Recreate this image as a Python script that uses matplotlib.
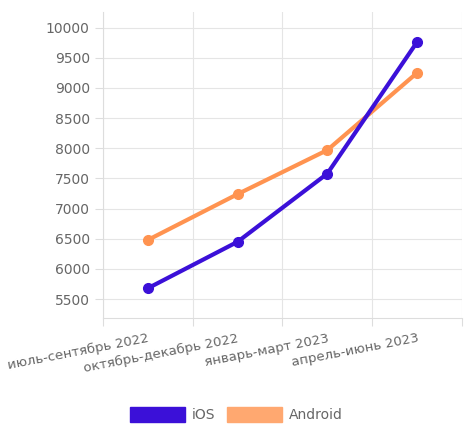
import matplotlib
matplotlib.use("Agg")
import matplotlib.pyplot as plt
from matplotlib.patches import Patch

categories = ["июль-сентябрь 2022", "октябрь-декабрь 2022", "январь-март 2023", "апрель-июнь 2023"]
ios = [5680, 6450, 7580, 9760]
android = [6480, 7240, 7970, 9250]
yticks = [5500, 6000, 6500, 7000, 7500, 8000, 8500, 9000, 9500, 10000]

fig = plt.figure(figsize=(4.68, 4.36), dpi=100)
ax = fig.add_axes([0.22, 0.271, 0.767, 0.701])
x = list(range(len(categories)))
c_ios = "#3B10D8"
c_and = "#FF9350"
ax.plot(x, android, color=c_and, lw=3, marker="o", ms=7, zorder=3)
ax.plot(x, ios, color=c_ios, lw=3, marker="o", ms=7, zorder=4)
ax.set_xlim(-0.5, 3.5)
ax.set_ylim(5190, 10255)
ax.set_yticks(yticks)
ax.set_xticks([i - 0.5 for i in range(5)], minor=False)
ax.set_xticklabels([])
ax.set_xticks(x, minor=True)
ax.set_xticklabels(categories, minor=True, rotation=11, ha="right", rotation_mode="anchor",
                   fontsize=9.5, color="#666666")
ax.tick_params(axis="x", which="minor", length=0, pad=10)
ax.tick_params(axis="x", which="major", length=6, color="#dddddd")
ax.tick_params(axis="y", length=6, color="#dddddd", labelsize=10, labelcolor="#666666")
ax.grid(True, which="major", color="#e5e5e5", lw=0.8)
for s in ax.spines.values():
    s.set_visible(False)
ax.spines["left"].set_visible(True)
ax.spines["left"].set_color("#dddddd")
ax.spines["bottom"].set_visible(True)
ax.spines["bottom"].set_color("#dddddd")
handles = [Patch(facecolor=c_ios, edgecolor=c_ios), Patch(facecolor="#FFA870", edgecolor="#FFA870")]
fig.legend(handles, ["iOS", "Android"], loc="center", bbox_to_anchor=(0.505, 0.05), ncol=2,
           frameon=False, handlelength=4, handleheight=1.3, fontsize=10, labelcolor="#666666",
           columnspacing=0.8, handletextpad=0.5)
fig.savefig("out.png", dpi=100)
